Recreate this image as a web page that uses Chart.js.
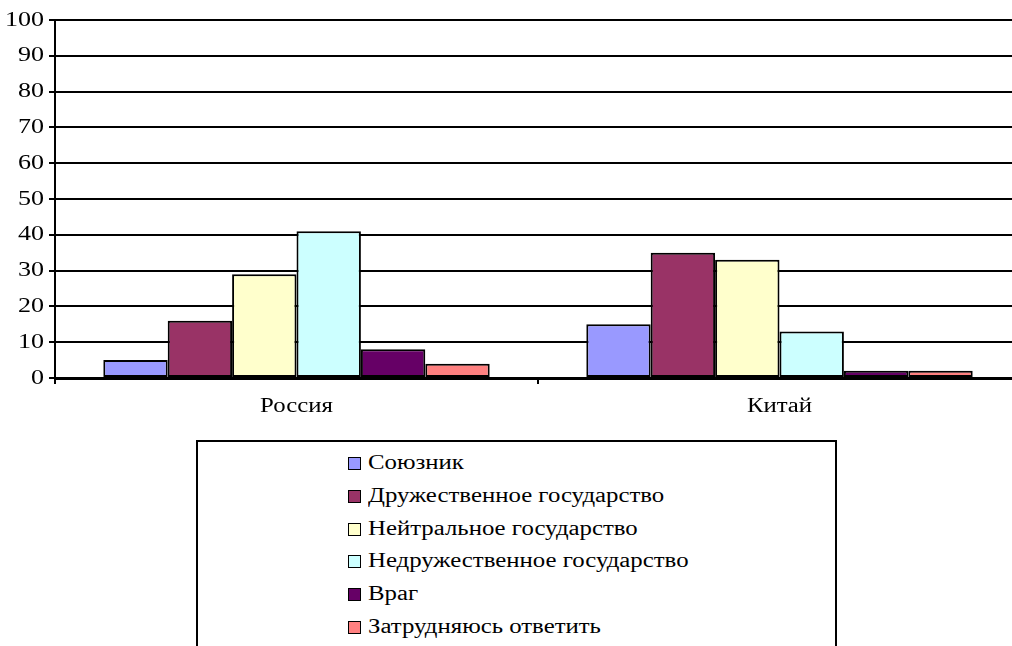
<!DOCTYPE html>
<html>
<head>
<meta charset="utf-8">
<script src="https://cdn.jsdelivr.net/npm/chart.js@4/dist/chart.umd.min.js"></script>
<style>
  html, body { margin: 0; padding: 0; background: #fff; overflow: hidden; width: 1012px; height: 646px; }
  #wrap { position: absolute; left: 0; top: 0; width: 1022px; height: 430px; }
  #legend {
    position: absolute; left: 196px; top: 440px; width: 641px; height: 230px;
    border: 2px solid #000; box-sizing: border-box;
    font-family: 'Liberation Serif'; font-size: 20px; color: #000;
  }
  #legend .item { position: absolute; left: 150px; height: 24px; line-height: 24px; white-space: nowrap; }
  #legend .box { display: inline-block; width: 11px; height: 11px; border: 1.5px solid #000; vertical-align: -1px; margin-right: 7px; }
  #legend .txt { display: inline-block; transform: scaleX(1.24); transform-origin: left center; }
</style>
</head>
<body>
<div id="wrap"><canvas id="chart"></canvas></div>
<div id="legend"></div>
<script>
const countries = ['Россия', 'Китай'];
const seriesNames = ['Союзник', 'Дружественное государство', 'Нейтральное государство',
  'Недружественное государство', 'Враг', 'Затрудняюсь ответить'];
const ally = [5, 15];
const friendly = [16, 35];
const neutral = [29, 33];
const unfriendly = [41, 13];
const enemy = [8, 2];
const hardToSay = [4, 2];
const yTicks = [0, 10, 20, 30, 40, 50, 60, 70, 80, 90, 100];

const colors = ['#9999FF', '#993366', '#FFFFCC', '#CCFFFF', '#660066', '#FF8080'];
const values = [ally, friendly, neutral, unfriendly, enemy, hardToSay];
const TEXT_STRETCH = 1.24; // the original's lettering is wider than plain Times

// stretch canvas text horizontally around its anchor point
const stretchText = {
  id: 'stretchText',
  beforeInit(chart) {
    const ctx = chart.ctx;
    const fill = ctx.fillText;
    ctx.fillText = function (t, x, y, maxW) {
      this.save();
      this.translate(x, y);
      this.scale(TEXT_STRETCH, 1);
      fill.call(this, t, 0, 0);
      this.restore();
    };
  }
};

Chart.defaults.font.family = 'Liberation Serif';

const chart = new Chart(document.getElementById('chart'), {
  type: 'bar',
  data: {
    labels: countries,
    datasets: seriesNames.map((name, i) => ({
      label: name,
      data: values[i],
      backgroundColor: colors[i],
      borderColor: '#000',
      borderWidth: 2,
      borderSkipped: false,
      categoryPercentage: 0.8,
      barPercentage: 1.0
    }))
  },
  options: {
    responsive: true, maintainAspectRatio: false, animation: false,
    layout: { padding: { top: 20, right: 1, left: 0, bottom: 0 } },
    plugins: { legend: { display: false }, tooltip: { enabled: false } },
    scales: {
      x: {
        grid: { display: true, drawOnChartArea: false, color: '#000', lineWidth: 2, tickLength: 6, offset: true },
        border: { color: '#000', width: 3 },
        ticks: { color: '#000', font: { size: 20 }, padding: 11 },
        afterFit: s => { s.height = 52; }
      },
      y: {
        min: 0, max: 100,
        afterBuildTicks: s => { s.ticks = yTicks.map(v => ({ value: v })); },
        grid: { color: '#000', lineWidth: 2, tickLength: 6 },
        border: { color: '#000', width: 2 },
        ticks: { color: '#000', font: { size: 21 }, padding: 5 },
        afterFit: s => { s.width = 55; }
      }
    }
  },
  plugins: [stretchText]
});

// legend built from the chart's datasets
const legend = document.getElementById('legend');
chart.data.datasets.forEach((ds, i) => {
  const row = document.createElement('div');
  row.className = 'item';
  row.style.top = (8 + i * 32.8) + 'px';
  row.innerHTML = '<span class="box" style="background:' + ds.backgroundColor + '"></span>' +
    '<span class="txt">' + ds.label + '</span>';
  legend.appendChild(row);
});
</script>
</body>
</html>
